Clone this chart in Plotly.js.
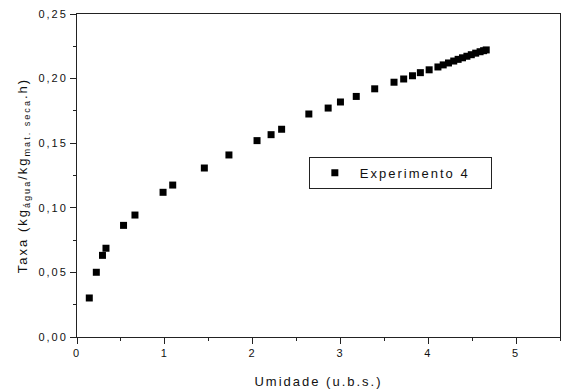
<!DOCTYPE html>
<html>
<head>
<meta charset="utf-8">
<script src="https://cdn.plot.ly/plotly-3.0.1.min.js"></script>
<style>
  html, body { margin: 0; padding: 0; background: #fff; }
  #chart { width: 566px; height: 392px; }
  /* wide tracking on all chart labels */
  #chart svg text { letter-spacing: 2px; }
</style>
</head>
<body>
<div id="chart"></div>
<script>
// Drying rate versus moisture content, experiment 4
const umidade = [0.14, 0.22, 0.29, 0.33, 0.53, 0.66, 0.98, 1.09, 1.45, 1.73,
                 2.05, 2.21, 2.33, 2.64, 2.86, 3.00, 3.18, 3.39, 3.61, 3.72,
                 3.82, 3.91, 4.01, 4.11, 4.17, 4.23, 4.29, 4.34, 4.39, 4.44,
                 4.49, 4.54, 4.59, 4.63, 4.66];
const taxa = [0.0302, 0.0501, 0.0632, 0.0687, 0.0864, 0.0944, 0.1120, 0.1176, 0.1308, 0.1409,
              0.1520, 0.1566, 0.1608, 0.1726, 0.1772, 0.1819, 0.1862, 0.1921, 0.1972, 0.1997,
              0.2022, 0.2046, 0.2068, 0.2090, 0.2106, 0.2121, 0.2136, 0.2149, 0.2161, 0.2173,
              0.2185, 0.2197, 0.2208, 0.2216, 0.2222];
const serieNome = 'Experimento 4';
const xTitulo = 'Umidade (u.b.s.)';
const yTitulo = 'Taxa (kg<sub>água</sub>/kg<sub>mat. seca</sub>.h)';

const fonte = 'Liberation Sans, Arial, Helvetica, sans-serif';
const eixo = '#222';

const trace = {
  x: umidade,
  y: taxa,
  type: 'scatter',
  mode: 'markers',
  name: serieNome,
  marker: { symbol: 'square', size: 7, color: '#000' }
};

const layout = {
  width: 566,
  height: 392,
  margin: { l: 77, r: 6, t: 14, b: 55 },
  paper_bgcolor: '#fff',
  plot_bgcolor: '#fff',
  separators: ',.',
  font: { family: fonte, color: '#111', size: 11 },
  showlegend: true,
  legend: {
    orientation: 'h',
    x: 0.480, y: 0.508, xanchor: 'left', yanchor: 'middle',
    bordercolor: '#222', borderwidth: 1, bgcolor: '#fff',
    font: { family: fonte, size: 13, color: '#111' },
    itemwidth: 40,
    entrywidth: 126, entrywidthmode: 'pixels'
  },
  xaxis: {
    range: [0, 5.5],
    dtick: 1, tick0: 0,
    ticks: 'outside', ticklen: 6, tickwidth: 1, tickcolor: eixo,
    minor: { ticks: 'outside', dtick: 0.5, ticklen: 3, tickcolor: eixo, tickwidth: 1 },
    showline: true, linecolor: eixo, linewidth: 1, mirror: true,
    showgrid: false, zeroline: false,
    tickfont: { size: 11, family: fonte, color: '#111' },
    title: { text: xTitulo, font: { size: 13, family: fonte, color: '#111' }, standoff: 18 }
  },
  yaxis: {
    range: [0, 0.25],
    dtick: 0.05, tick0: 0, tickformat: '.2f',
    ticks: 'outside', ticklen: 6, tickwidth: 1, tickcolor: eixo,
    minor: { ticks: 'outside', dtick: 0.025, ticklen: 3, tickcolor: eixo, tickwidth: 1 },
    showline: true, linecolor: eixo, linewidth: 1, mirror: true,
    showgrid: false, zeroline: false,
    tickfont: { size: 11, family: fonte, color: '#111' },
    title: { text: yTitulo, font: { size: 13, family: fonte, color: '#111' }, standoff: 15 }
  }
};

Plotly.newPlot('chart', [trace], layout, { staticPlot: true, displayModeBar: false });
</script>
</body>
</html>
